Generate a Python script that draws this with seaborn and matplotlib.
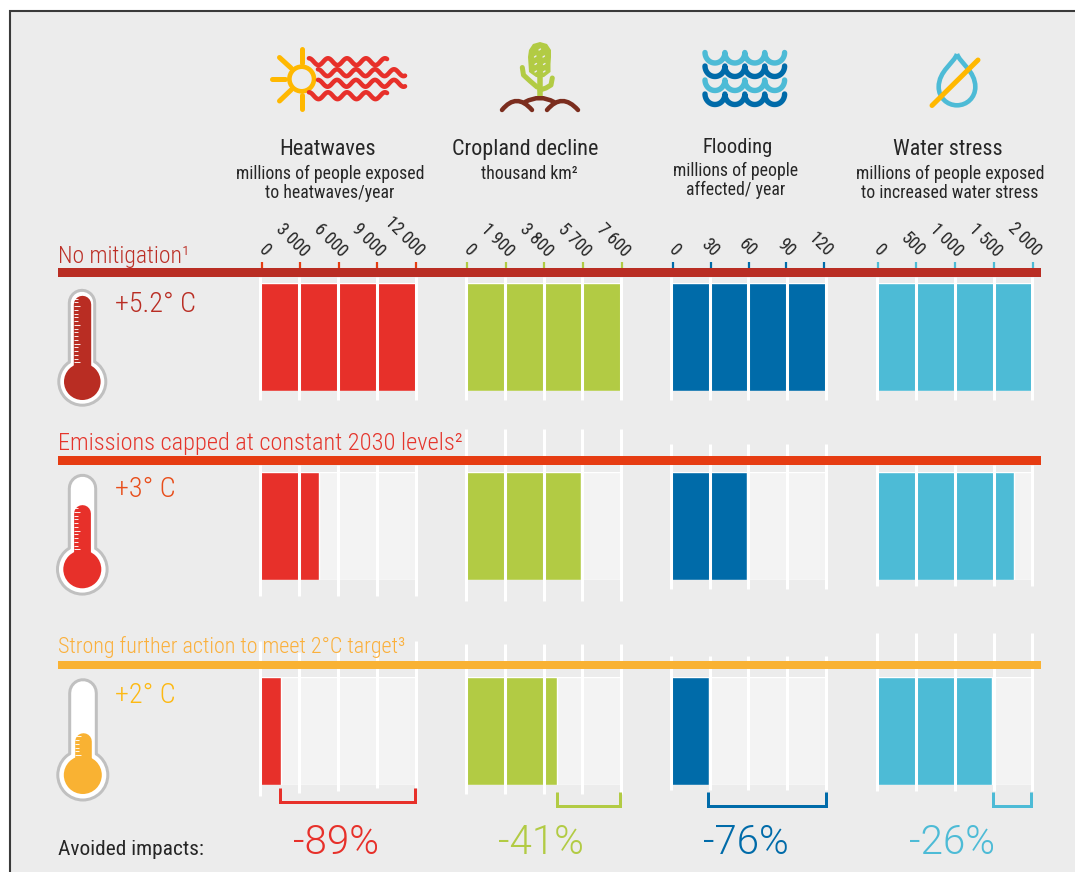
import numpy as np
import pandas as pd
import seaborn as sns
import matplotlib
matplotlib.use("Agg")
import matplotlib.pyplot as plt
from matplotlib.patches import Circle, PathPatch, Rectangle
from matplotlib.path import Path

# ---------- data ----------
impacts = ["Heatwaves", "Cropland decline", "Flooding", "Water stress"]
scenarios = ["No mitigation", "Emissions capped", "Strong further action"]
heatwaves = [12000, 4520, 1620]
cropland = [7600, 5630, 4450]
flooding = [120, 59, 29.5]
water_stress = [2000, 1765, 1480]
axis_max = [12000, 7600, 120, 2000]
tick_values = [[0, 3000, 6000, 9000, 12000], [0, 1900, 3800, 5700, 7600],
               [0, 30, 60, 90, 120], [0, 500, 1000, 1500, 2000]]
tick_labels = [["0", "3 000", "6 000", "9 000", "12 000"], ["0", "1 900", "3 800", "5 700", "7 600"],
               ["0", "30", "60", "90", "120"], ["0", "500", "1 000", "1 500", "2 000"]]
avoided = ["-89%", "-41%", "-76%", "-26%"]
titles = ["Heatwaves", "Cropland decline", "Flooding", "Water stress"]
subtitles = [["millions of people exposed", "to heatwaves/year"], ["thousand km²"],
             ["millions of people", "affected/ year"],
             ["millions of people exposed", "to increased water stress"]]
scenario_titles = ["No mitigation¹", "Emissions capped at constant 2030 levels²",
                   "Strong further action to meet 2°C target³"]
warming = ["+5.2° C", "+3° C", "+2° C"]

# ---------- style ----------
W, H = 1075, 872
BG = "#ECECEC"
PALE = "#F3F3F3"
RED, GREEN, BLUE, CYAN = "#E7302A", "#B2CB44", "#006BA9", "#4DBBD6"
YELLOW = "#FFB800"
BROWN = "#7B2D1E"
col_colors = [RED, GREEN, BLUE, CYAN]
band_colors = ["#B92D23", "#E63C12", "#F9B233"]
title_colors = ["#BC2F26", "#E5352C", "#FBB03B"]
warm_colors = ["#B92D23", "#E84E1B", "#FDB913"]
fill_colors = ["#B92D23", "#E7302A", "#F9B233"]
TXT = "#262626"

sns.set_theme(style="white")
plt.rcParams["font.family"] = ["Roboto Condensed", "DejaVu Sans"]
plt.rcParams["font.weight"] = 300
plt.rcParams["axes.unicode_minus"] = False

fig = plt.figure(figsize=(W / 100, H / 100), dpi=100, facecolor="white")


def px_axes(x0, y0, x1, y1, z):
    return fig.add_axes([x0 / W, 1 - y1 / H, (x1 - x0) / W, (y1 - y0) / H], zorder=z)


values = [heatwaves, cropland, flooding, water_stress]
col_span = [(260.3, 416), (466, 621.3), (670.7, 826), (877.3, 1032.3)]
tick_span = [(262, 415.5), (467.2, 621.6), (672.7, 824.3), (877.5, 1032.5)]
row_span = [(283, 391), (472, 580), (677, 785)]
# top/bottom of each white guide line, per row and column
guide_top = [[277, 277, 277, 277], [465, 429, 444, 465],
             [[641, 652, 652, 652, 641], 644, 656, 633]]
guide_bot = [[400, 400, 400, 400], [596, 601, 589, 586],
             [[796, 793, 791, 788, 788], 794, 790, 791]]

# background of the frame
frame = fig.add_axes([0, 0, 1, 1], zorder=0)
frame.set_xlim(0, W)
frame.set_ylim(H, 0)
frame.axis("off")
frame.add_patch(Rectangle((10, 11), W, H, fc=BG, ec="#3A3A3A", lw=1.5))

# bars: one small axes per scenario and impact
for r, scen in enumerate(scenarios):
    for c, imp in enumerate(impacts):
        ax = px_axes(col_span[c][0], row_span[r][0], col_span[c][1], row_span[r][1], 1)
        ax.patch.set_alpha(0)
        sns.barplot(x=[axis_max[c]], y=[scen], orient="h", color=PALE, width=1, saturation=1, ax=ax)
        sns.barplot(x=[values[c][r]], y=[scen], orient="h", color=col_colors[c], width=1, saturation=1, ax=ax)
        ax.set_xlim(0, axis_max[c])
        ax.set_ylim(0.5, -0.5)
        ax.set_xticks([])
        ax.set_yticks([])
        ax.set_xlabel("")
        ax.set_ylabel("")
        for s in ax.spines.values():
            s.set_visible(False)
        y0, y1 = row_span[r]
        tops = guide_top[r][c]
        bots = guide_bot[r][c]
        for i, tv in enumerate(tick_values[c]):
            t = tops[i] if isinstance(tops, list) else tops
            b = bots[i] if isinstance(bots, list) else bots
            ax.plot([tv, tv], [(t - y0) / (y1 - y0) - 0.5, (b - y0) / (y1 - y0) - 0.5],
                    color="white", lw=2.2, solid_capstyle="butt", clip_on=False, zorder=5)

# value axes sitting on top of the first band
for c in range(4):
    ax = px_axes(tick_span[c][0], 268, tick_span[c][1], 269, 3)
    ax.patch.set_alpha(0)
    ax.set_xlim(0, axis_max[c])
    ax.set_yticks([])
    for s in ax.spines.values():
        s.set_visible(False)
    ax.xaxis.tick_top()
    ax.set_xticks(tick_values[c])
    ax.set_xticklabels(tick_labels[c], rotation=-45, ha="right", va="center",
                       rotation_mode="anchor", fontsize=12.8, color=TXT, fontweight=400)
    ax.tick_params(axis="x", length=4.3, width=1.6, color=col_colors[c] if c else "#E63C12", pad=6, top=True, bottom=False)
    offset = matplotlib.transforms.ScaledTranslation(5.5 / 100, 0, fig.dpi_scale_trans)
    for lab in ax.get_xticklabels():
        lab.set_transform(lab.get_transform() + offset)

# overlay in figure pixels: bands, text, icons
ov = fig.add_axes([0, 0, 1, 1], zorder=2)
ov.set_xlim(0, W)
ov.set_ylim(H, 0)
ov.axis("off")
ov.patch.set_alpha(0)

PT = 0.72


def stroke(xs, ys, color, w, cap="round", z=3):
    ov.plot(xs, ys, color=color, lw=w * PT, solid_capstyle=cap, solid_joinstyle="round", zorder=z)


def txt(x, y, s, size, color=TXT, ha="left", **kw):
    ov.text(x, y, s, fontsize=size, color=color, ha=ha, va="baseline", zorder=6, **kw)


# bands
for (y0, y1), col in zip([(268, 277), (456, 464.5), (660.7, 669.3)], band_colors):
    ov.add_patch(Rectangle((58, y0), 1041 - 58, y1 - y0, fc=col, ec="none", zorder=4))

# scenario titles and warming labels
for s, col, y, size in zip(scenario_titles, title_colors, [263, 450, 653], [17, 17.6, 15.9]):
    txt(58, y, s, size, col)
for s, col, y in zip(warming, warm_colors, [312, 497, 703]):
    txt(115, y, s, 20.3, col)

# column headers
title_x = [328, 525, 738, 948]
title_y = [155, 155, 153, 155]
title_sz = [16, 15.9, 14.7, 15.8]
sub_x = [330, 529, 736, 950]
sub_y = [[179, 198], [179], [176, 195], [179, 198]]
for c in range(4):
    txt(title_x[c], title_y[c], titles[c], title_sz[c], ha="center", fontweight=400)
    for s, y in zip(subtitles[c], sub_y[c]):
        txt(sub_x[c], y, s, 12.8, ha="center", fontweight=400)

# avoided impacts
txt(58, 855, "Avoided impacts:", 15.4, fontweight=400)
for s, col, x in zip(avoided, col_colors, [336, 541, 746, 952]):
    txt(x, 854, s, 29, col, ha="center", family=["Roboto", "DejaVu Sans"])

# brackets
brackets = [(279.5, 415, 788, 802), (556.5, 620, 792, 806), (708, 826, 792, 806), (993, 1031, 792, 806)]
for (x0, x1, t, b), col in zip(brackets, col_colors):
    ov.plot([x0, x0, x1, x1], [t, b, b, t], color=col, lw=3 * PT, solid_joinstyle="miter",
            solid_capstyle="butt", zorder=3)


# thermometers
def thermo(cx, top, cy, ro, tube, rf, stem, ftop, col):
    stroke([cx, cx], [top + tube, cy], "#C0C0C0", 2 * tube)
    ov.add_patch(Circle((cx, cy), ro, fc="#C0C0C0", ec="none", zorder=3))
    stroke([cx, cx], [top + tube, cy], "white", 2 * tube - 6, z=3.1)
    ov.add_patch(Circle((cx, cy), ro - 3, fc="white", ec="none", zorder=3.1))
    stroke([cx, cx], [ftop + stem, cy], col, 2 * stem, z=3.2)
    ov.add_patch(Circle((cx, cy), rf, fc=col, ec="none", zorder=3.2))
    n = int((cy - rf - 1 - (ftop + 3)) // 3.75) + 1
    for i in range(n):
        y = cy - rf - 1 - i * 3.75
        ln = 6.5 if i % 5 == 0 else 4.5
        stroke([cx - stem, cx - stem + ln], [y, y], "white", 0.9, cap="butt", z=3.3)


thermo(82.3, 289, 381.7, 25, 14.2, 18.3, 8.7, 295, fill_colors[0])
thermo(82.3, 473, 569.3, 26.3, 14.7, 19, 8.4, 505, fill_colors[1])
thermo(82.8, 678, 775, 26.5, 14.8, 19, 8.3, 733, fill_colors[2])

# sun and heat waves
suncx, suncy = 301.7, 79
ov.add_patch(Circle((suncx, suncy), 12.3, fc="none", ec=YELLOW, lw=4.6 * PT, zorder=3))
for (a, b, c, d) in [(suncx, 49, suncx, 63), (suncx, 95, suncx, 109), (272, suncy, 285, suncy),
                     (279.5, 57.5, 291, 68), (279.5, 101, 291, 90)]:
    stroke([a, c], [b, d], YELLOW, 5)
for x0, x1, y in [(309, 387, 61.7), (318, 405, 72.7), (318, 405, 83.3), (309, 387, 95.7)]:
    xs = np.linspace(x0, x1, 120)
    stroke(xs, y + 3.4 * np.cos((xs - x0) / 19 * 2 * np.pi + np.pi), RED, 4.6, z=3.4)

# wheat plant
stroke([539.5, 539.5], [70, 97], GREEN, 5.5)
stroke([522.3, 523.5, 530, 537], [67.5, 75, 81, 87], GREEN, 5)
stroke([552.3, 551, 546, 540], [78, 85, 88, 90], GREEN, 5)
ov.add_patch(PathPatch(Path([(540, 42), (547, 44), (551, 50), (551, 57), (550.5, 64), (550.5, 72), (544, 77),
                             (540, 77.5), (536, 77), (529, 72), (528.5, 64), (528, 57), (529, 50), (533, 44), (540, 42)]),
                       fc=GREEN, ec="none", zorder=3.1))
for dx, dy in [(539, 50), (534.5, 57), (543, 57), (535, 64.5), (543.5, 64.5), (535, 72), (543.5, 72)]:
    stroke([dx, dx + 1.5], [dy, dy - 1], BG, 1.4, z=3.2)
for pts in [[(502, 110), (516.5, 92), (532, 110)], [(525, 102), (540, 94), (554, 102)], [(547, 110), (562, 92), (578, 110)]]:
    ov.add_patch(PathPatch(Path(pts, [Path.MOVETO, Path.CURVE3, Path.CURVE3]), fc="none", ec=BROWN,
                           lw=4.5 * PT, capstyle="round", zorder=3.5))

# waves
for ytop, col in [(52.5, CYAN), (66, BLUE), (80, CYAN), (94, BLUE)]:
    xs_all, ys_all = [], []
    for k in range(4):
        xa = 705 + k * 19.9
        t = np.linspace(np.pi, 2 * np.pi, 30)
        xs_all += list(xa + 9.95 + 9.95 * np.cos(t))
        ys_all += list(ytop - 10.5 * np.sin(t))
    stroke(xs_all, ys_all, col, 5.4)

# drop with strike-through
dx, dy, dr = 957, 87, 18.3
verts = [(dx, 54), (dx + 3, 63), (dx + dr, 71), (dx + dr, 87),
         (dx + dr, 97.5), (dx + 10, dy + dr), (dx, dy + dr),
         (dx - 10, dy + dr), (dx - dr, 97.5), (dx - dr, 87),
         (dx - dr, 71), (dx - 3, 63), (dx, 54)]
codes = [Path.MOVETO] + [Path.CURVE4] * 12
ov.add_patch(PathPatch(Path(verts, codes), fc="none", ec=CYAN, lw=4.6 * PT, zorder=3))
stroke([932, 978], [105.5, 60], YELLOW, 5, z=3.4)

fig.savefig("out.png", dpi=100, facecolor="white")
